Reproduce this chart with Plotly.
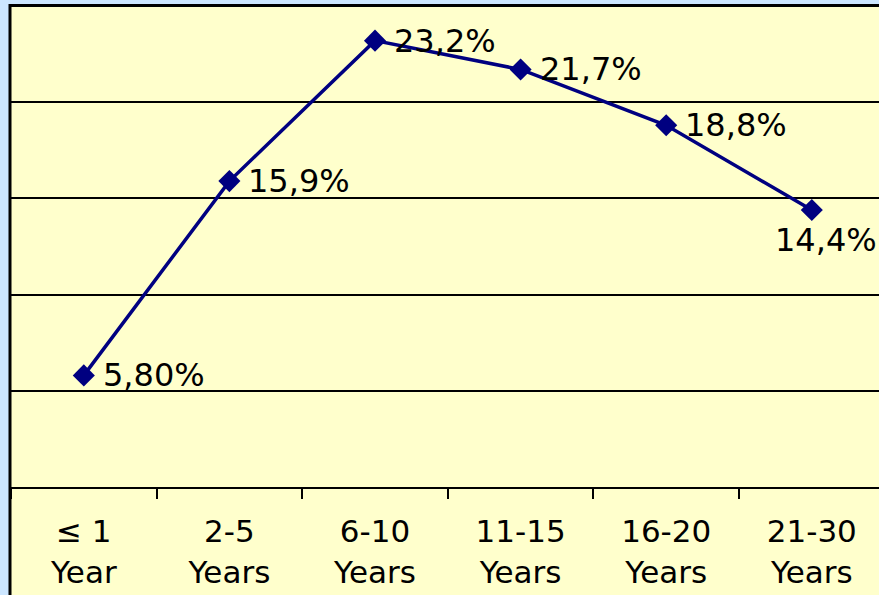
import plotly.graph_objects as go

categories = ["≤ 1<br>Year", "2-5<br>Years", "6-10<br>Years", "11-15<br>Years", "16-20<br>Years", "21-30<br>Years"]
values = [5.8, 15.9, 23.2, 21.7, 18.8, 14.4]
labels = ["5,80%", "15,9%", "23,2%", "21,7%", "18,8%", "14,4%"]

W, H = 879, 595
ML, MR, MT, MB = 11, 0, 6, 108
PW, PH = W - ML - MR, H - MT - MB
YELLOW = "#FFFFCC"
BLUE = "#CCE6FF"
NAVY = "#000080"
FONT = "DejaVu Sans"


def px(x):
    return (x - ML) / PW


def py(y):
    return (H - MB - y) / PH


fig = go.Figure()
fig.add_trace(go.Scatter(
    x=categories, y=values, mode="lines+markers",
    line=dict(color=NAVY, width=3.5),
    marker=dict(symbol="diamond", size=17, color=NAVY),
    hoverinfo="skip", showlegend=False,
))

for i, (c, v, t) in enumerate(zip(categories, values, labels)):
    last = i == len(categories) - 1
    fig.add_annotation(
        x=c, y=v, text=t, showarrow=False,
        xanchor="center" if last else "left",
        yanchor="top" if last else "middle",
        xshift=14 if last else 17,
        yshift=-9 if last else 0,
        font=dict(family=FONT, size=32, color="black"),
    )

shapes = [
    # blue outer strips
    dict(type="rect", xref="paper", yref="paper", x0=px(-5), x1=px(9), y0=py(H + 5), y1=py(-5),
         fillcolor=BLUE, line=dict(width=0), layer="above"),
    dict(type="rect", xref="paper", yref="paper", x0=px(-5), x1=px(W + 5), y0=py(4), y1=py(-5),
         fillcolor=BLUE, line=dict(width=0), layer="above"),
    # chart area border
    dict(type="line", xref="paper", yref="paper", x0=px(10), x1=px(10), y0=py(4), y1=py(H + 5),
         line=dict(color="black", width=3), layer="above"),
    dict(type="line", xref="paper", yref="paper", x0=px(9), x1=px(W + 5), y0=py(5.5), y1=py(5.5),
         line=dict(color="black", width=3), layer="above"),
]

fig.update_layout(
    width=W, height=H,
    margin=dict(l=ML, r=MR, t=MT, b=MB, pad=0),
    paper_bgcolor=YELLOW, plot_bgcolor=YELLOW,
    font=dict(family=FONT, size=32, color="black"),
    shapes=shapes,
    xaxis=dict(
        type="category", categoryorder="array", categoryarray=categories,
        range=[-0.5, -0.5 + PW / 145.6],
        tickson="boundaries", ticks="outside", ticklen=10, tickwidth=2, tickcolor="black",
        ticklabelstandoff=16,
        showline=True, linecolor="black", linewidth=2,
        showgrid=False, zeroline=False,
        tickfont=dict(family=FONT, size=31, color="black"),
    ),
    yaxis=dict(
        range=[0, 25], dtick=5, showticklabels=False, ticks="",
        showgrid=True, gridcolor="black", gridwidth=2,
        zeroline=False, showline=False,
    ),
)

fig.write_html("out.html")
